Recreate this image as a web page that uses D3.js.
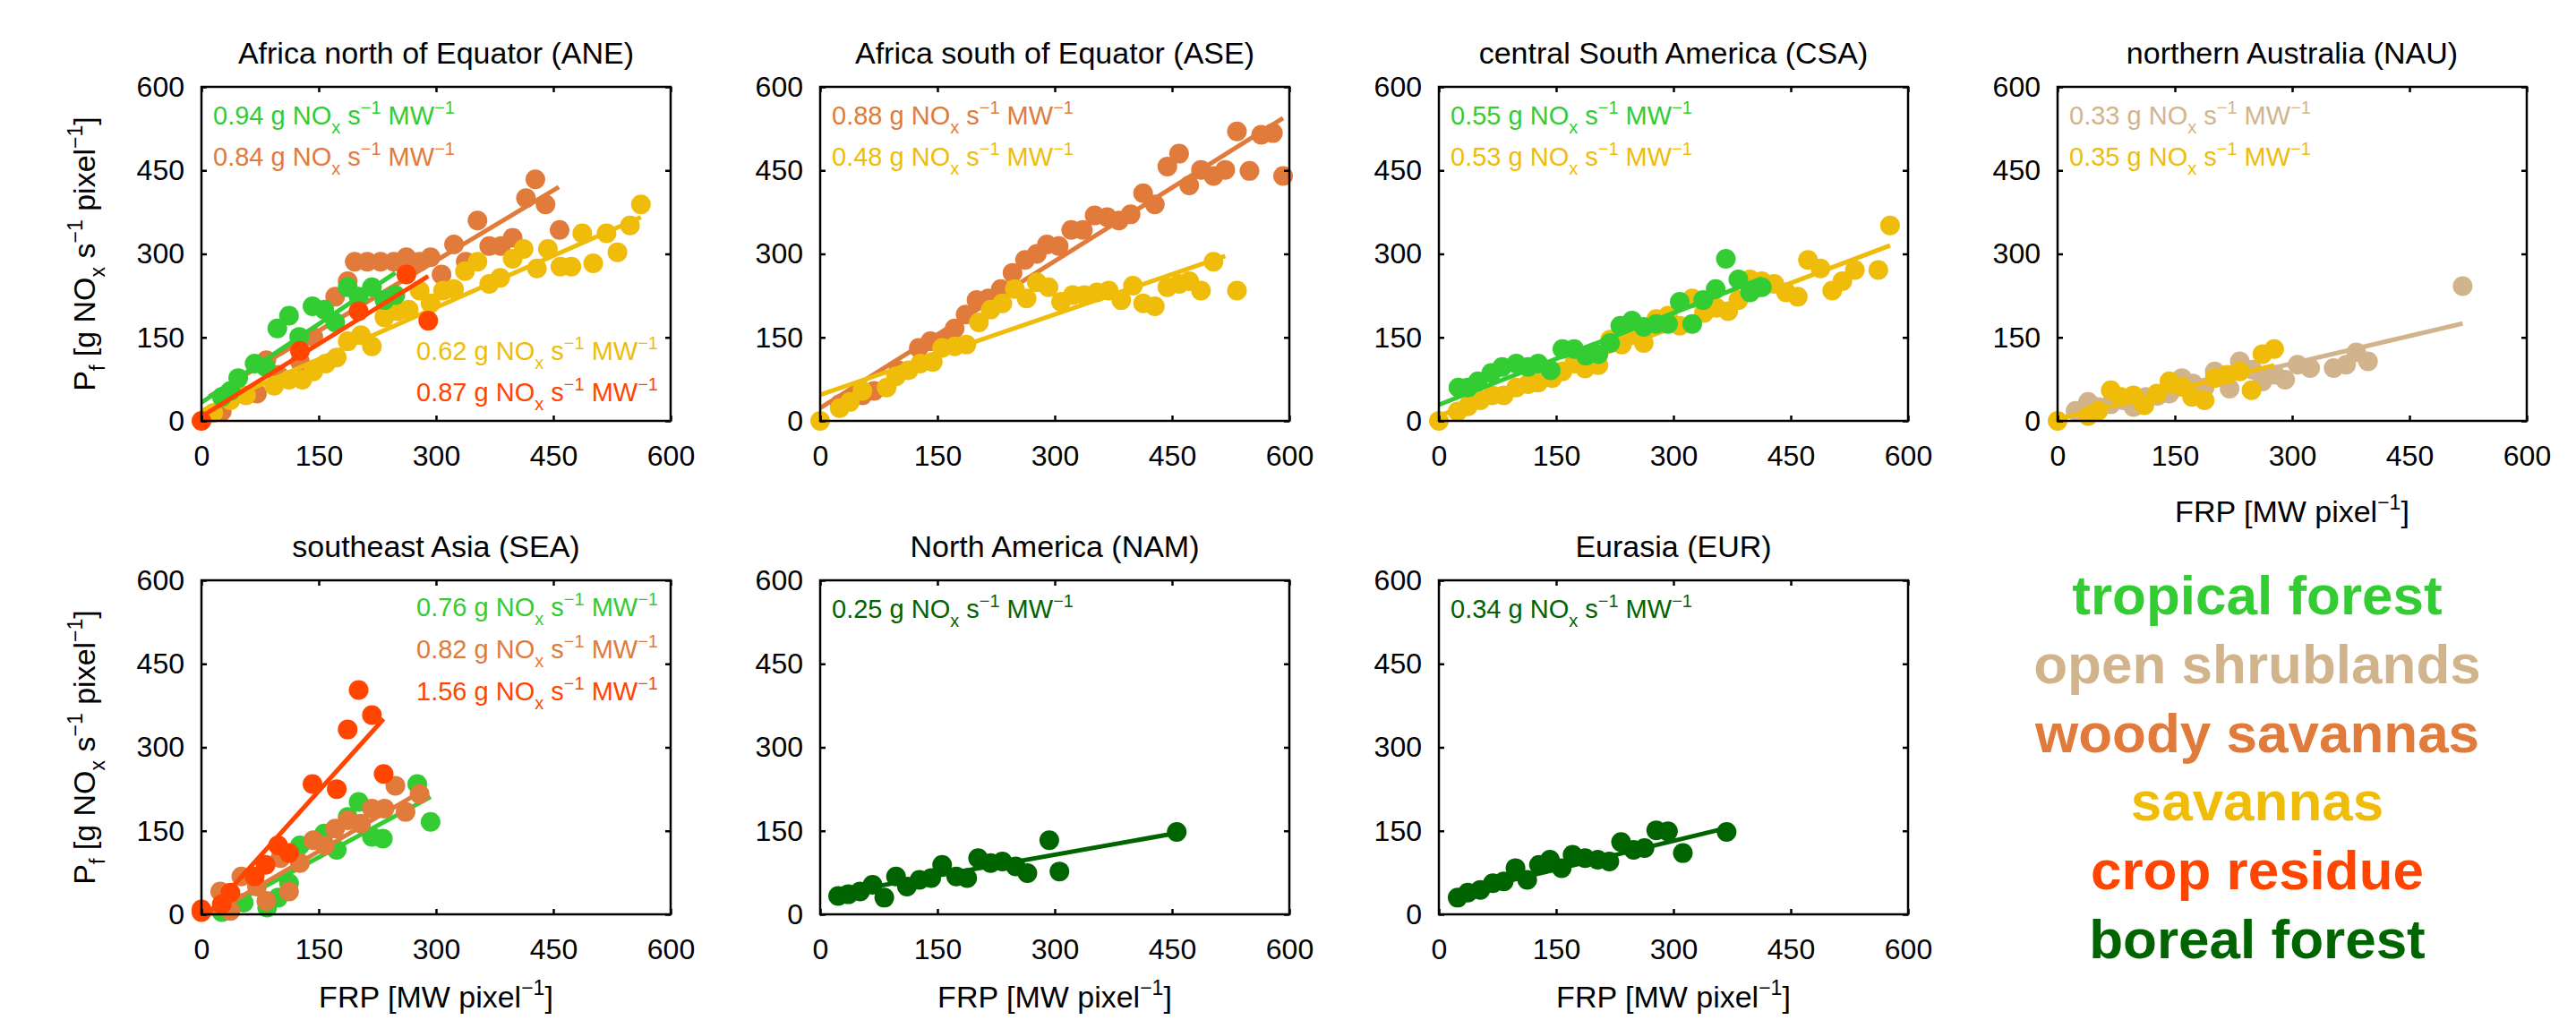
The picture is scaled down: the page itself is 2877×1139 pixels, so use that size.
<!DOCTYPE html>
<html>
<head>
<meta charset="utf-8">
<script src="https://cdn.jsdelivr.net/npm/d3@7"></script>
<style>
  body { margin: 0; background: #fff; }
  svg text { font-family: "Liberation Sans", Arial, Helvetica, sans-serif; }
</style>
</head>
<body>
<svg width="2877" height="1139"></svg>
<script>
// land cover categories and their colours
const covers = ['tropical forest', 'open shrublands', 'woody savannas', 'savannas', 'crop residue', 'boreal forest'];
const coverColors = ['#33cc33', '#d2b48c', '#e07b3b', '#f0bc0a', '#ff4500', '#006400'];

const tickValues = [0, 150, 300, 450, 600];

// points [FRP, Pf]
const aneTropical = [[26,43],[37,54],[47,77],[68,103],[82,97],[97,166],[112,189],[125,151],[142,206],[157,200],[171,177],[187,240],[201,223],[218,240],[234,217],[248,226]];
const aneWoody = [[26,17],[71,49],[83,109],[98,83],[126,106],[143,151],[171,223],[187,251],[196,286],[212,286],[229,286],[246,286],[262,294],[279,286],[293,294],[307,263],[323,317],[338,286],[353,360],[368,314],[383,314],[398,329],[415,400],[427,434],[440,389],[458,343]];
const aneSavanna = [[15,14],[37,37],[57,46],[93,63],[112,74],[129,74],[143,89],[159,103],[173,114],[187,143],[204,154],[218,134],[234,186],[251,197],[265,200],[279,234],[293,211],[309,234],[323,237],[337,269],[353,286],[368,246],[382,257],[398,291],[412,309],[429,274],[443,309],[459,277],[473,277],[487,337],[501,283],[518,337],[532,303],[548,351],[562,389]];
const aneCrop = [[0,0],[126,126],[201,197],[262,263],[290,180]];

const aseWoody = [[25,30],[40,40],[54,46],[69,54],[100,91],[126,131],[141,143],[156,143],[172,166],[186,191],[200,217],[215,220],[231,237],[246,266],[262,289],[277,300],[290,317],[305,314],[321,343],[336,343],[351,369],[367,366],[382,360],[397,371],[413,409],[428,389],[444,457],[459,480],[472,423],[487,451],[503,440],[518,451],[533,520],[549,449],[564,514],[579,517],[592,440]];
const aseSavanna = [[0,0],[25,23],[38,34],[54,54],[85,60],[97,80],[113,91],[128,103],[144,106],[156,131],[172,134],[187,137],[203,177],[218,200],[233,211],[249,237],[264,220],[277,249],[292,240],[308,214],[323,226],[338,226],[354,231],[369,234],[385,217],[400,243],[413,211],[428,206],[444,240],[459,246],[472,251],[487,234],[503,286],[533,234]];

const csaTropical = [[25,60],[37,60],[50,71],[67,86],[81,97],[99,103],[114,97],[127,103],[143,91],[158,129],[173,129],[188,117],[204,120],[219,140],[232,171],[247,180],[262,169],[278,174],[293,174],[308,214],[324,174],[338,217],[354,237],[367,291],[383,254],[398,231],[413,240]];
const csaSavanna = [[0,0],[24,17],[37,26],[53,37],[68,46],[83,46],[99,60],[114,66],[127,69],[145,77],[158,89],[173,103],[187,94],[204,100],[219,146],[234,137],[250,160],[262,140],[278,183],[293,189],[308,171],[324,220],[339,194],[355,203],[370,197],[383,217],[398,254],[413,251],[429,246],[444,231],[459,223],[472,289],[488,274],[503,234],[516,251],[532,271],[562,271],[577,351]];

const nauShrub = [[23,18],[39,34],[52,25],[68,30],[84,37],[97,25],[113,43],[128,45],[143,49],[159,77],[173,67],[188,60],[201,89],[220,58],[233,107],[249,92],[262,71],[278,83],[291,74],[307,101],[323,95],[353,95],[369,101],[382,123],[397,107],[518,242]];
const nauSavanna = [[0,0],[39,9],[52,18],[68,55],[81,43],[97,46],[111,28],[127,49],[143,71],[159,61],[172,43],[188,37],[201,77],[217,83],[233,89],[248,55],[262,120],[277,129]];

const seaTropical = [[26,4],[54,21],[84,12],[98,30],[112,56],[126,124],[157,145],[173,116],[187,175],[201,202],[218,139],[232,136],[276,234],[293,166]];
const seaWoody = [[24,41],[37,6],[51,68],[71,50],[83,24],[101,101],[112,41],[126,92],[143,133],[158,124],[171,154],[187,169],[204,163],[218,190],[234,190],[248,231],[261,184],[279,216]];
const seaCrop = [[0,9],[0,4],[26,18],[37,39],[68,68],[82,89],[98,124],[112,110],[142,234],[173,225],[187,332],[201,403],[218,358],[233,252]];

const namBoreal = [[23,33],[36,36],[51,41],[67,53],[82,30],[97,68],[111,50],[127,62],[142,65],[156,89],[174,68],[188,65],[202,101],[218,92],[233,95],[250,86],[265,74],[293,133],[306,77],[456,148]];
const eurBoreal = [[24,30],[37,39],[53,44],[69,56],[83,59],[98,83],[113,62],[128,89],[142,98],[157,83],[171,107],[187,101],[203,98],[218,95],[233,130],[249,116],[263,119],[278,151],[293,149],[312,110],[368,148]];

// fitted lines as [x0, y0, x1, y1] in data units
const aneFits = [[10, 44, 457, 420], [0, 18, 562, 366], [0, 33, 248, 266], [0, 8, 290, 260]];
const aseFits = [[0, 23, 592, 544], [0, 47, 518, 296]];
const csaFits = [[0, 9, 577, 315], [0, 29, 413, 256]];
const nauFits = [[0, 4, 518, 175], [0, 3, 277, 100]];
const seaFits = [[15, 0, 293, 211], [12, 0, 279, 219], [8, 0, 233, 351]];
const namFits = [[23, 38, 456, 146]];
const eurFits = [[24, 38, 368, 155]];

// emission coefficients printed in each panel
const aneRates = ['0.84', '0.62', '0.94', '0.87'];
const aseRates = ['0.88', '0.48'];
const csaRates = ['0.53', '0.55'];
const nauRates = ['0.33', '0.35'];
const seaRates = ['0.76', '0.82', '1.56'];
const namRates = ['0.25'];
const eurRates = ['0.34'];

const panels = [
  {title: 'Africa north of Equator (ANE)', col: 0, row: 0, ylab: true, xlab: false,
   covers: [2, 3, 0, 4], pts: [aneWoody, aneSavanna, aneTropical, aneCrop], fits: aneFits, rates: aneRates,
   notes: [{pos: 'tl', items: [2, 0]}, {pos: 'br', items: [1, 3]}]},
  {title: 'Africa south of Equator (ASE)', col: 1, row: 0, ylab: false, xlab: false,
   covers: [2, 3], pts: [aseWoody, aseSavanna], fits: aseFits, rates: aseRates,
   notes: [{pos: 'tl', items: [0, 1]}]},
  {title: 'central South America (CSA)', col: 2, row: 0, ylab: false, xlab: false,
   covers: [3, 0], pts: [csaSavanna, csaTropical], fits: csaFits, rates: csaRates,
   notes: [{pos: 'tl', items: [1, 0]}]},
  {title: 'northern Australia (NAU)', col: 3, row: 0, ylab: false, xlab: true,
   covers: [1, 3], pts: [nauShrub, nauSavanna], fits: nauFits, rates: nauRates,
   notes: [{pos: 'tl', items: [0, 1]}]},
  {title: 'southeast Asia (SEA)', col: 0, row: 1, ylab: true, xlab: true,
   covers: [0, 2, 4], pts: [seaTropical, seaWoody, seaCrop], fits: seaFits, rates: seaRates,
   notes: [{pos: 'tr', items: [0, 1, 2]}]},
  {title: 'North America (NAM)', col: 1, row: 1, ylab: false, xlab: true,
   covers: [5], pts: [namBoreal], fits: namFits, rates: namRates,
   notes: [{pos: 'tl', items: [0]}]},
  {title: 'Eurasia (EUR)', col: 2, row: 1, ylab: false, xlab: true,
   covers: [5], pts: [eurBoreal], fits: eurFits, rates: eurRates,
   notes: [{pos: 'tl', items: [0]}]}
];

const svg = d3.select('svg');

const boxW = 524, boxH = 373;
const colLeft = [225, 916, 1607, 2298];
const rowTop = [97, 648];
const xLabelGap = [113, 104];

const x = d3.scaleLinear().domain([0, 600]).range([0, boxW]);
const y = d3.scaleLinear().domain([0, 600]).range([boxH, 0]);

// writes "0.94 g NOx s-1 MW-1" with sub/superscripts
const rateText = (sel, rate) => {
  sel.append('tspan').text(rate + ' g NO');
  sel.append('tspan').attr('font-size', 20).attr('dy', 10).text('x');
  sel.append('tspan').attr('dy', -10).text(' s');
  sel.append('tspan').attr('font-size', 20).attr('dy', -12).text('\u22121');
  sel.append('tspan').attr('dy', 12).text(' MW');
  sel.append('tspan').attr('font-size', 20).attr('dy', -12).text('\u22121');
};

panels.forEach(p => {
  const g = svg.append('g')
    .attr('transform', `translate(${colLeft[p.col]}, ${rowTop[p.row]})`);

  // points and fit lines
  p.pts.forEach((pts, i) => {
    const c = coverColors[p.covers[i]];
    g.append('g').selectAll('circle').data(pts).join('circle')
      .attr('cx', d => x(d[0]))
      .attr('cy', d => y(d[1]))
      .attr('r', 11)
      .attr('fill', c);
    const f = p.fits[i];
    g.append('line')
      .attr('x1', x(f[0])).attr('y1', y(f[1]))
      .attr('x2', x(f[2])).attr('y2', y(f[3]))
      .attr('stroke', c)
      .attr('stroke-width', 5);
  });

  // axes with inward ticks on all four sides
  const xAxisG = g.append('g').attr('transform', `translate(0, ${boxH})`)
    .call(d3.axisBottom(x).tickValues(tickValues).tickSize(-6).tickPadding(27));
  const yAxisG = g.append('g')
    .call(d3.axisLeft(y).tickValues(tickValues).tickSize(-6).tickPadding(19));
  const topG = g.append('g')
    .call(d3.axisTop(x).tickValues(tickValues).tickSize(-6).tickFormat(''));
  const rightG = g.append('g').attr('transform', `translate(${boxW}, 0)`)
    .call(d3.axisRight(y).tickValues(tickValues).tickSize(-6).tickFormat(''));

  [xAxisG, yAxisG, topG, rightG].forEach(a => {
    a.select('.domain').remove();
    a.selectAll('line').attr('stroke', '#000').attr('stroke-width', 2.5);
    a.selectAll('text').attr('font-size', 32).attr('fill', '#000')
      .attr('font-family', '"Liberation Sans", Arial, Helvetica, sans-serif');
  });

  g.append('rect')
    .attr('width', boxW).attr('height', boxH)
    .attr('fill', 'none').attr('stroke', '#000').attr('stroke-width', 2.5);

  g.append('text')
    .attr('x', boxW / 2).attr('y', -26)
    .attr('text-anchor', 'middle')
    .attr('font-size', 34)
    .text(p.title);

  // slope annotations
  p.notes.forEach(n => {
    n.items.forEach((idx, k) => {
      let tx, ty, anchor;
      if (n.pos === 'tl') { tx = 13; ty = 42 + k * 46; anchor = 'start'; }
      else if (n.pos === 'tr') { tx = boxW - 14; ty = 40 + k * 47; anchor = 'end'; }
      else { tx = boxW - 14; ty = boxH - 68 + k * 46; anchor = 'end'; }
      const t = g.append('text')
        .attr('x', tx).attr('y', ty)
        .attr('text-anchor', anchor)
        .attr('font-size', 29)
        .attr('fill', coverColors[p.covers[idx]]);
      rateText(t, p.rates[idx]);
    });
  });

  if (p.ylab) {
    const t = g.append('text')
      .attr('transform', `translate(-119, ${boxH / 2}) rotate(-90)`)
      .attr('text-anchor', 'middle')
      .attr('font-size', 34);
    t.append('tspan').text('P');
    t.append('tspan').attr('font-size', 23).attr('dy', 11).text('f');
    t.append('tspan').attr('dy', -11).text(' [g NO');
    t.append('tspan').attr('font-size', 23).attr('dy', 11).text('x');
    t.append('tspan').attr('dy', -11).text(' s');
    t.append('tspan').attr('font-size', 23).attr('dy', -14).text('\u22121');
    t.append('tspan').attr('dy', 14).text(' pixel');
    t.append('tspan').attr('font-size', 23).attr('dy', -14).text('\u22121');
    t.append('tspan').attr('dy', 14).text(']');
  }

  if (p.xlab) {
    const t = g.append('text')
      .attr('x', boxW / 2).attr('y', boxH + xLabelGap[p.row])
      .attr('text-anchor', 'middle')
      .attr('font-size', 34);
    t.append('tspan').text('FRP [MW pixel');
    t.append('tspan').attr('font-size', 23).attr('dy', -14).text('\u22121');
    t.append('tspan').attr('dy', 14).text(']');
  }
});

// colour legend written as words
svg.append('g').selectAll('text').data(covers).join('text')
  .attr('x', 2521)
  .attr('y', (d, i) => 686 + i * 76.8)
  .attr('text-anchor', 'middle')
  .attr('font-size', 62)
  .attr('font-weight', 'bold')
  .attr('fill', (d, i) => coverColors[i])
  .text(d => d);
</script>
</body>
</html>
